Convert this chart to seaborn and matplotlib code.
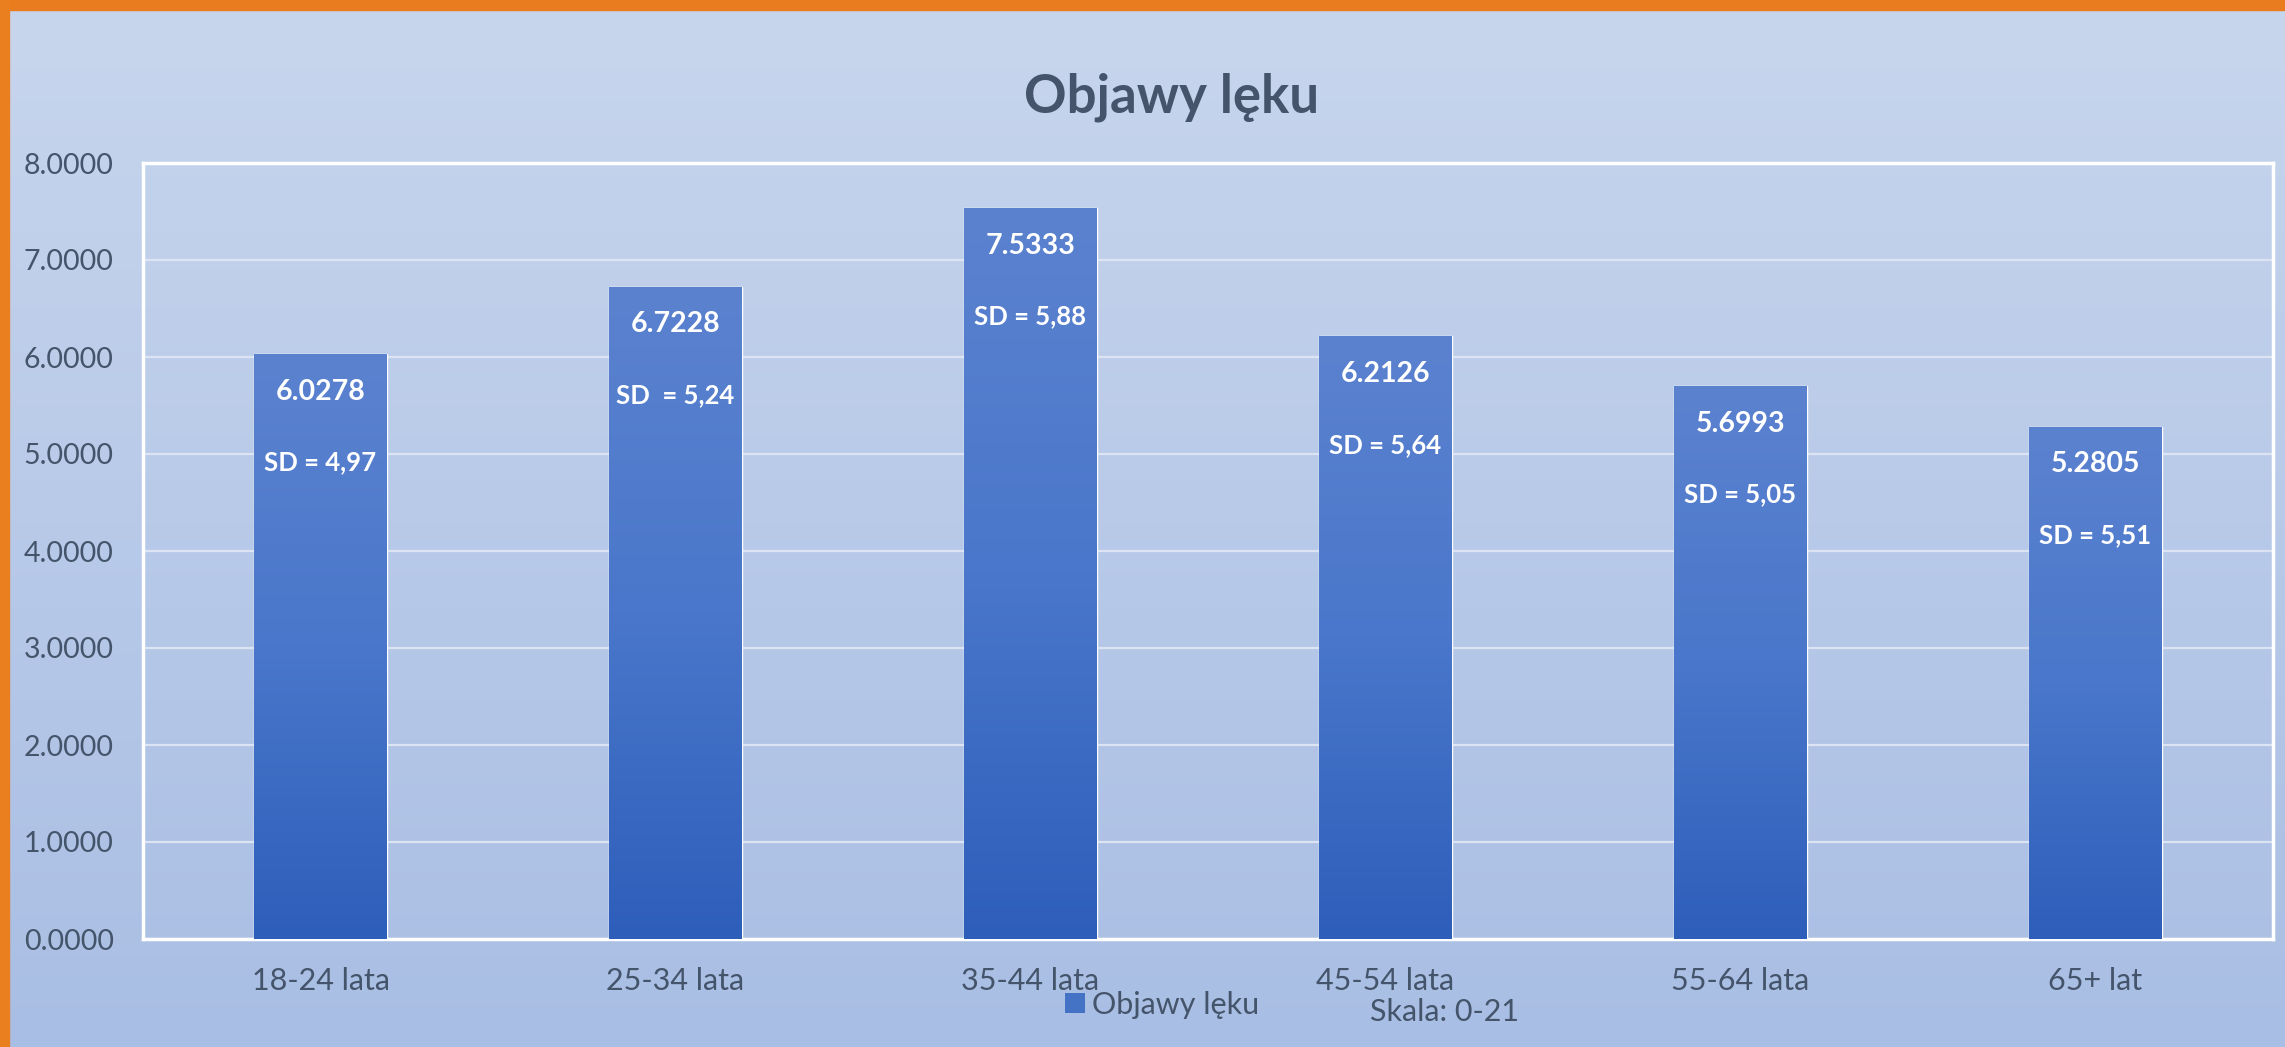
import numpy as np
import pandas as pd
import matplotlib
matplotlib.use("Agg")
import matplotlib.pyplot as plt
from matplotlib.patches import Rectangle, Patch
from matplotlib.colors import LinearSegmentedColormap
import seaborn as sns

categories = ["18-24 lata", "25-34 lata", "35-44 lata", "45-54 lata", "55-64 lata", "65+ lat"]
means = [6.0278, 6.7228, 7.5333, 6.2126, 5.6993, 5.2805]
sd_labels = ["SD = 4,97", "SD  = 5,24", "SD = 5,88", "SD = 5,64", "SD = 5,05", "SD = 5,51"]
y_ticks = [0, 1, 2, 3, 4, 5, 6, 7, 8]
series_name = "Objawy lęku"
title = "Objawy lęku"
scale_note = "Skala: 0-21"

sns.set_theme(style="white")
plt.rcParams['font.family'] = ['Lato', 'DejaVu Sans']

W, H = 2285, 1047
fig = plt.figure(figsize=(W / 100, H / 100), dpi=100)

# background gradient
bg = fig.add_axes([0, 0, 1, 1], zorder=-10)
bg_cmap = LinearSegmentedColormap.from_list("bg", ["#C8D6ED", "#A9BEE4"])
bg.imshow(np.linspace(0, 1, 256).reshape(-1, 1), aspect="auto", cmap=bg_cmap,
          extent=[0, 1, 0, 1], origin="upper")
bg.set_axis_off()
# orange border
fig.patches.append(Rectangle((0, 1 - 10 / H), 1, 10 / H, transform=fig.transFigure,
                             color="#E97C1E", zorder=5))
fig.patches.append(Rectangle((0, 0), 9 / W, 1, transform=fig.transFigure,
                             color="#EA7F1F", zorder=5))

ax = fig.add_axes([143 / W, (H - 939) / H, 2130 / W, 776 / H])
ax.set_facecolor("none")

df = pd.DataFrame({"kat": categories, "val": means})
sns.barplot(data=df, x="kat", y="val", color="#4472C4", width=0.372, ax=ax,
            saturation=1, zorder=3)

bar_cmap = LinearSegmentedColormap.from_list("bar", ["#5B82CF", "#4A77CB", "#2D5EBA"])
grad = np.linspace(0, 1, 256).reshape(-1, 1)
for p in ax.patches:
    x0, y0 = p.get_x(), p.get_y()
    w, h = p.get_width(), p.get_height()
    im = ax.imshow(grad, aspect="auto", cmap=bar_cmap, extent=[x0, x0 + w, y0, y0 + h],
                   origin="upper", zorder=4)
    im.set_clip_path(p)

ax.set_xlim(-0.5, len(categories) - 0.5)
ax.set_ylim(0, 8)
ax.set_yticks(y_ticks)
ax.set_yticklabels([f"{v:.4f}" for v in y_ticks])
ax.set_xlabel("")
ax.set_ylabel("")
ax.grid(axis="y", color="#DCE4F3", linewidth=1.6, zorder=1)
ax.set_axisbelow(True)
ax.tick_params(axis="y", length=0, labelsize=20.5, labelcolor="#44546A", pad=21)
ax.tick_params(axis="x", length=0, labelsize=22, labelcolor="#44546A", pad=20)
for s in ax.spines.values():
    s.set_visible(True)
    s.set_color("white")
    s.set_linewidth(2.5)

for i, (m, sd) in enumerate(zip(means, sd_labels)):
    ax.annotate(f"{m:.4f}", (i, m), xytext=(0, -27), textcoords="offset points",
                ha="center", va="center", color="white", fontsize=20.5, fontweight="bold", zorder=6)
    ax.annotate(sd, (i, m), xytext=(0, -78), textcoords="offset points",
                ha="center", va="center", color="white", fontsize=18.5, fontweight="bold", zorder=6)

fig.text(1172 / W, 1 - 97 / H, title, ha="center", va="center", fontsize=38,
         fontweight="bold", color="#44546A")

fig.legend(handles=[Patch(facecolor="#4472C4", edgecolor="none")], labels=[series_name],
           loc="center", bbox_to_anchor=(1162 / W, 1 - 1005 / H), frameon=False,
           fontsize=22, labelcolor="#44546A", handlelength=0.65, handleheight=0.65,
           handletextpad=0.25)
fig.text(1445 / W, 1 - 1012 / H, scale_note, ha="center", va="center", fontsize=22,
         color="#44546A")

fig.savefig("out.png", dpi=100)
